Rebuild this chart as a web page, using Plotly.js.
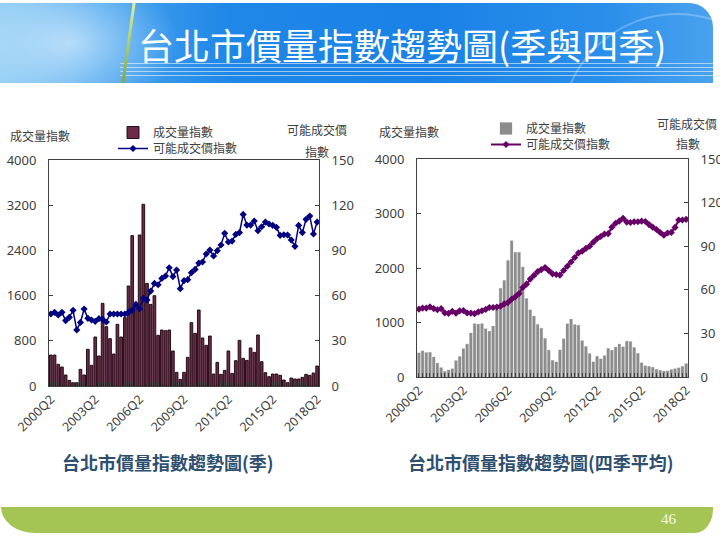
<!DOCTYPE html>
<html>
<head>
<meta charset="utf-8">
<script src="https://cdn.plot.ly/plotly-3.0.1.min.js"></script>
<style>
  html,body{margin:0;padding:0;background:#ffffff;}
  #wrap{position:relative;width:720px;height:537px;overflow:hidden;background:#ffffff;}
  #banner{position:absolute;left:0;top:3px;width:713px;height:80px;border-radius:0 24px 0 0;
    background:linear-gradient(90deg,#8fcdf4 0%,#4aa6ef 14%,#1f87e7 32%,#1a82e6 60%,#2a8fea 85%,#4aa2ee 100%);overflow:hidden;}
  #banner .glow{position:absolute;left:-40px;top:-30px;width:220px;height:140px;
    background:radial-gradient(ellipse at center,rgba(255,255,255,0.55) 0%,rgba(255,255,255,0) 70%);}
  #banner .stripes{position:absolute;left:120px;right:0;bottom:4px;height:16px;
    background:repeating-linear-gradient(180deg,rgba(255,255,255,0.55) 0px,rgba(255,255,255,0.55) 1px,rgba(255,255,255,0) 1px,rgba(255,255,255,0) 4px);}
  #banner .vline{position:absolute;left:127px;top:0;width:3px;height:80px;background:linear-gradient(180deg,#d9f0a0,#7fa84a);transform:skewX(-8deg);}
  #banner .ring{position:absolute;left:560px;top:10px;width:230px;height:230px;border-radius:50%;border:2px solid rgba(255,255,255,0.25);}
  #footer{position:absolute;left:1px;top:507px;width:712px;height:26px;background:#a4c553;border-radius:0 0 18px 34px / 0 0 24px 26px;}
  #chart{position:absolute;left:0;top:0;width:720px;height:537px;}
</style>
</head>
<body>
<div id="wrap">
  <div id="banner"><div class="glow"></div><div class="stripes"></div><div class="vline"></div><div class="ring"></div></div>
  <div id="footer"></div>
  <div id="chart"></div>
</div>
<script>
// ---- Data ----
const quarters = [
  '2000Q2','2000Q3','2000Q4',
  '2001Q1','2001Q2','2001Q3','2001Q4',
  '2002Q1','2002Q2','2002Q3','2002Q4',
  '2003Q1','2003Q2','2003Q3','2003Q4',
  '2004Q1','2004Q2','2004Q3','2004Q4',
  '2005Q1','2005Q2','2005Q3','2005Q4',
  '2006Q1','2006Q2','2006Q3','2006Q4',
  '2007Q1','2007Q2','2007Q3','2007Q4',
  '2008Q1','2008Q2','2008Q3','2008Q4',
  '2009Q1','2009Q2','2009Q3','2009Q4',
  '2010Q1','2010Q2','2010Q3','2010Q4',
  '2011Q1','2011Q2','2011Q3','2011Q4',
  '2012Q1','2012Q2','2012Q3','2012Q4',
  '2013Q1','2013Q2','2013Q3','2013Q4',
  '2014Q1','2014Q2','2014Q3','2014Q4',
  '2015Q1','2015Q2','2015Q3','2015Q4',
  '2016Q1','2016Q2','2016Q3','2016Q4',
  '2017Q1','2017Q2','2017Q3','2017Q4',
  '2018Q1','2018Q2'
];

// Quarterly volume index (left chart bars)
const volumeQ = [
  548,548,384,336,195,100,59,59,295,195,
  650,366,867,531,1463,1050,838,566,1092,867,
  1210,1770,2661,1450,2673,3216,1817,1445,1599,897,
  991,979,991,620,242,118,242,507,1121,932,
  1345,850,720,885,212,419,206,277,620,224,
  448,808,490,454,673,596,903,430,236,165,
  212,212,189,106,59,142,124,124,153,206,
  189,230,354
];

// Quarterly possible-price index (left chart line)
const priceQ = [
  47.8,48.9,47.1,48.9,43.4,45.6,50.2,37.2,42.2,51.1,
  44.9,43.8,42.9,44.7,44.2,42.5,47.8,47.8,47.8,47.8,
  47.8,48.9,50.4,54.2,51.3,58.2,57.1,63.0,68.1,67.2,
  71.4,73.0,78.5,72.6,77.0,64.6,69.9,70.6,75.2,77.4,
  81.6,82.3,87.6,90.2,86.3,89.8,93.6,101.3,95.6,96.2,
  100.6,101.8,113.9,106.8,106.8,109.5,103.1,105.7,108.8,107.5,
  106.6,105.3,100.0,100.4,100.2,96.9,92.7,106.6,101.8,110.6,
  112.8,100.9,108.8
];

// Four-quarter average volume index (right chart bars)
const volume4Q = [
  442,479,448,454,366,254,172,103,128,152,
  300,376,520,604,807,978,970,979,886,841,
  934,1235,1627,1773,2139,2500,2289,2288,2019,1440,
  1233,1117,965,895,708,493,306,277,497,700,
  976,1062,962,950,667,559,430,278,380,332,
  392,525,492,550,606,553,656,650,541,433,
  261,206,194,180,141,124,108,112,136,152,
  168,195,245
];

// Four-quarter average possible-price index (right chart line)
const price4Q = [
  46.7,47.4,47.4,48.2,47.1,46.3,47.0,44.1,43.8,45.2,
  43.9,45.5,45.7,44.1,43.9,43.6,44.8,45.6,46.5,47.8,
  47.8,48.1,48.7,50.3,51.2,53.5,55.2,57.4,61.6,63.9,
  67.4,69.9,72.5,73.9,75.3,73.2,71.0,70.5,70.1,73.3,
  76.2,79.1,82.2,85.4,86.6,88.5,90.0,92.8,95.1,96.7,
  98.4,98.6,103.1,105.8,107.3,109.2,106.6,106.3,106.8,106.8,
  107.2,107.0,104.9,103.1,101.5,99.4,97.6,99.1,99.5,102.9,
  108.0,108.0,108.5
];

const volName = '成交量指數';
const priceName = '可能成交價指數';

// ---- Plot ----
const W = 720, H = 537;
const px = x => x / W;
const py = y => 1 - y / H;

const FONT = '"Noto Sans CJK TC", "Noto Sans", sans-serif';
const NUMFONT = '"Noto Sans", "DejaVu Sans", sans-serif';
const AX = '#404040';

const traces = [
  {type:'bar', name:volName, x:quarters, y:volumeQ, xaxis:'x', yaxis:'y', legend:'legend',
   marker:{color:'#6e2848', line:{color:'#140509', width:0.9}}},
  {type:'scatter', mode:'lines+markers', name:priceName, x:quarters, y:priceQ, xaxis:'x', yaxis:'y2', legend:'legend3',
   line:{color:'#000080', width:1.5}, marker:{symbol:'diamond', size:5.5, color:'#000080'}},
  {type:'bar', name:volName, x:quarters, y:volume4Q, xaxis:'x2', yaxis:'y3', legend:'legend2',
   marker:{color:'#8c8c8c', line:{color:'#9a9a9a', width:0.3}}},
  {type:'scatter', mode:'lines+markers', name:priceName, x:quarters, y:price4Q, xaxis:'x2', yaxis:'y4', legend:'legend4',
   line:{color:'#660066', width:2}, marker:{symbol:'diamond', size:5.5, color:'#660066'}}
];

function xax(domain, anchor){
  return {domain:domain, anchor:anchor, type:'category', range:[-0.5, quarters.length-0.5],
    tickmode:'linear', tick0:0, dtick:1, ticklabelstep:12,
    ticks:'inside', ticklen:4, tickwidth:1, tickcolor:AX,
    tickangle:-45, tickfont:{family:NUMFONT, size:12.5, color:AX},
    showline:true, linecolor:AX, linewidth:1, mirror:true, showgrid:false, zeroline:false,
    fixedrange:true};
}
function yax(domain, anchor, range, dtick, side, overlay){
  const a = {domain:domain, anchor:anchor, range:range, dtick:dtick, tick0:0, side:side,
    ticks:'inside', ticklen:4, tickwidth:1, tickcolor:AX,
    tickfont:{family:NUMFONT, size:13, color:AX}, ticklabelstandoff:9,
    showline:true, linecolor:AX, linewidth:1, showgrid:false, zeroline:false, fixedrange:true};
  if (overlay) { a.overlaying = overlay; delete a.domain; }
  return a;
}

const dL = [px(49), px(319)], dLy = [py(386), py(160)];
const dR = [px(417), px(688)], dRy = [py(377), py(159)];

// legend placed so that its text starts at textX and its row is centred at rowY
function leg(textX, rowY){
  return {x:px(textX-41), y:py(rowY-13), xanchor:'left', yanchor:'top', bgcolor:'rgba(0,0,0,0)',
    font:{family:FONT, size:12, color:AX}, itemwidth:30, tracegroupgap:0};
}

function ann(text, x, y, opts){
  return Object.assign({text:text, x:px(x), y:py(y), xref:'paper', yref:'paper', showarrow:false,
    xanchor:'center', yanchor:'middle', font:{family:FONT, size:12, color:AX}}, opts||{});
}

const layout = {
  width:W, height:H, margin:{l:0, r:0, t:0, b:0},
  paper_bgcolor:'rgba(0,0,0,0)', plot_bgcolor:'rgba(0,0,0,0)',
  font:{family:FONT, size:12, color:AX},
  bargap:0.27,
  showlegend:true,
  xaxis: xax(dL, 'y'),
  yaxis: yax(dLy, 'x', [0,4000], 800, 'left'),
  yaxis2: yax(null, 'x', [0,150], 30, 'right', 'y'),
  xaxis2: xax(dR, 'y3'),
  yaxis3: yax(dRy, 'x2', [0,4000], 1000, 'left'),
  yaxis4: yax(null, 'x2', [0,150], 30, 'right', 'y3'),
  legend: leg(154, 131),
  legend3: leg(154, 147),
  legend2: leg(527, 127),
  legend4: leg(527, 143),
  annotations:[
    ann('台北市價量指數趨勢圖(季與四季)', 402, 44, {font:{family:FONT, size:36, color:'#ffffff'}}),
    ann('成交量指數', 8, 135, {xanchor:'left'}),
    ann('可能成交價', 317, 130),
    ann('指數', 317, 152),
    ann('成交量指數', 377, 132, {xanchor:'left'}),
    ann('可能成交價', 687, 124),
    ann('指數', 688, 144),
    ann('台北市價量指數趨勢圖(季)', 168, 462, {font:{family:FONT, size:18, color:'#2e4f70', weight:'bold'}}),
    ann('台北市價量指數趨勢圖(四季平均)', 541, 462, {font:{family:FONT, size:18, color:'#2e4f70', weight:'bold'}}),
    ann('46', 669, 519, {font:{family:'"Liberation Serif", "DejaVu Serif", serif', size:15, color:'#f4f8ea'}})
  ]
};

Plotly.newPlot('chart', traces, layout, {staticPlot:true, displayModeBar:false});
</script>
</body>
</html>
